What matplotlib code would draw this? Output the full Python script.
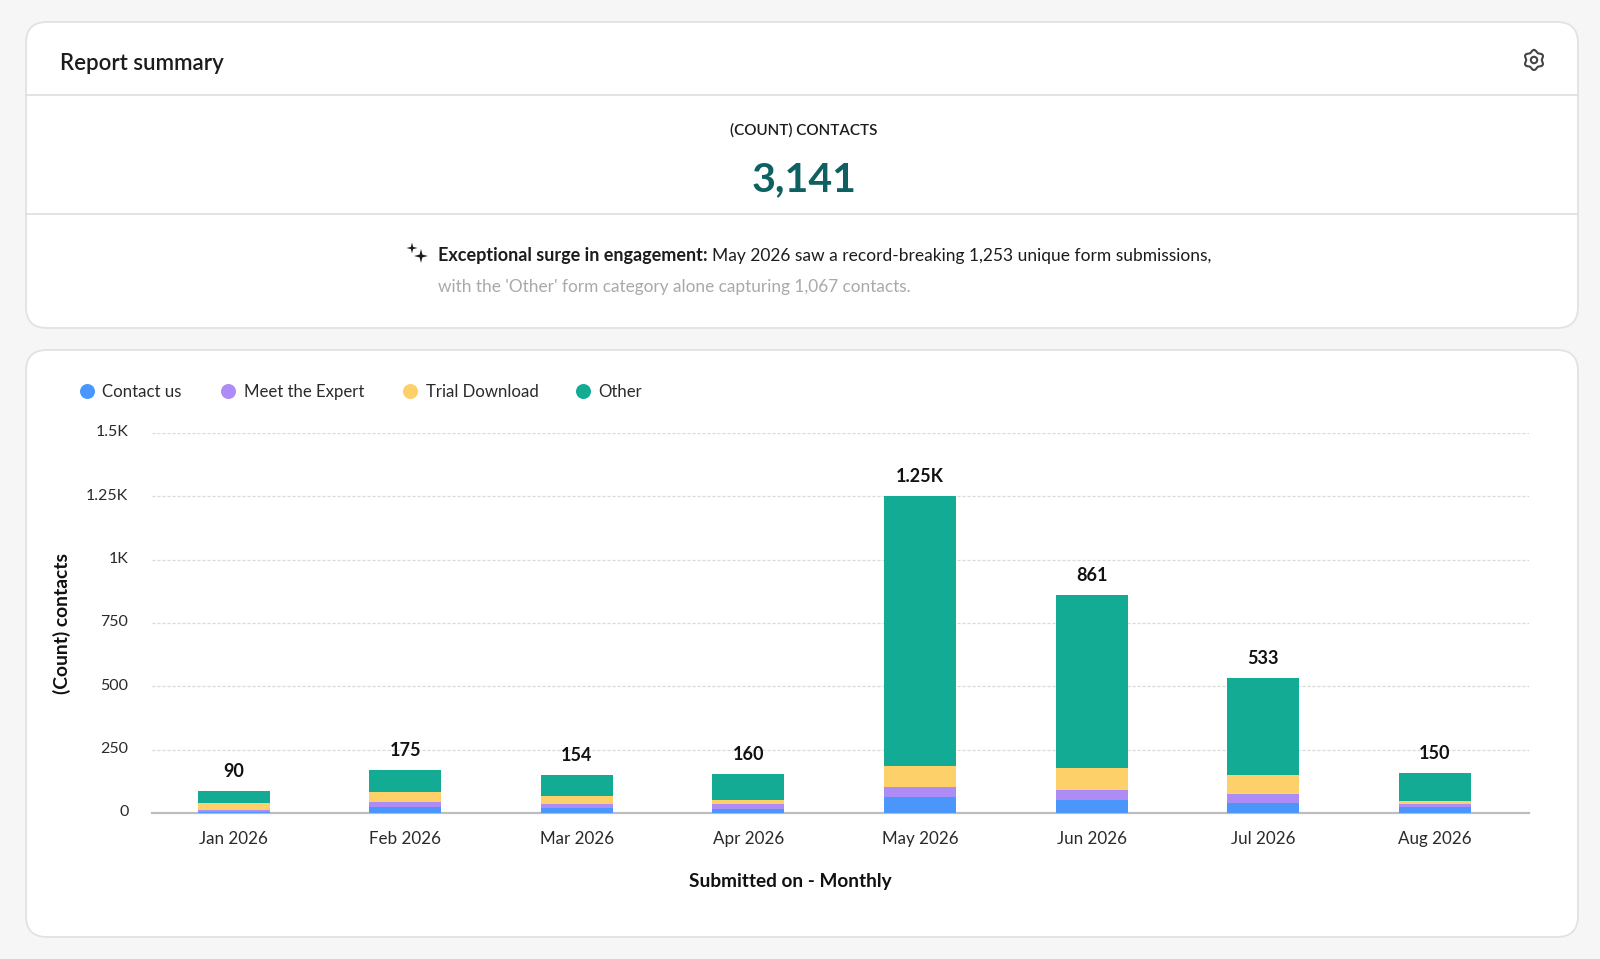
import numpy as np
import matplotlib
matplotlib.use("Agg")
import matplotlib.pyplot as plt
from matplotlib.patches import FancyBboxPatch
from matplotlib.ticker import FixedLocator, FixedFormatter
from matplotlib.transforms import ScaledTranslation

FONT = "Lato"
plt.rcParams["font.family"] = [FONT, "DejaVu Sans"]

months = ["Jan 2026", "Feb 2026", "Mar 2026", "Apr 2026", "May 2026", "Jun 2026", "Jul 2026", "Aug 2026"]
contact_us = [5, 25, 20, 17, 63, 53, 39, 22]
meet_expert = [8, 17, 14, 17, 40, 39, 37, 14]
trial_download = [26, 42, 32, 17, 83, 87, 75, 10]
other = [49, 87, 85, 103, 1067, 682, 382, 112]
total_labels = ["90", "175", "154", "160", "1.25K", "861", "533", "150"]
series_names = ["Contact us", "Meet the Expert", "Trial Download", "Other"]
series_colors = ["#4B96FB", "#AE8CF5", "#FDD069", "#14AB95"]
y_ticks = [0, 250, 500, 750, 1000, 1250, 1500]
y_tick_labels = ["0", "250", "500", "750", "1K", "1.25K", "1.5K"]

W, H = 1600, 959
fig = plt.figure(figsize=(W / 100, H / 100), dpi=100, facecolor="#F6F6F6")

bg = fig.add_axes([0, 0, 1, 1], zorder=0)
bg.set_xlim(0, W)
bg.set_ylim(H, 0)
bg.axis("off")

def card(x0, y0, x1, y1, r=21):
    bg.add_patch(FancyBboxPatch((x0, y0), x1 - x0, y1 - y0,
                                boxstyle=f"round,pad=0,rounding_size={r}",
                                fc="white", ec="#E2E2E2", lw=1.3))

card(26, 22, 1578, 328)
card(26, 350, 1578, 937)
bg.plot([26, 1578], [95, 95], color="#DEDEDE", lw=1.2)
bg.plot([26, 1578], [213.5, 213.5], color="#DEDEDE", lw=1.2)

def px(size):
    return size * 0.72

DARK = "#1C1C1C"
bg.text(59.5, 63, "Report summary", fontsize=px(22.3), color=DARK, va="center", ha="left", fontweight="semibold")
bg.text(804, 130, "(COUNT) CONTACTS", fontsize=px(15.3), color=DARK, va="center", ha="center", fontweight="semibold")
bg.text(804, 180, "3,141", fontsize=px(41), color="#0F6161", va="center", ha="center", fontweight="bold")

# insight text, bold run followed by regular run
t1 = bg.text(438, 256, "Exceptional surge in engagement:", fontsize=px(18), color=DARK,
             va="center", ha="left", fontweight="bold")
fig.canvas.draw()
ext = t1.get_window_extent(fig.canvas.get_renderer())
bg.text(ext.x1 + 4, 256, "May 2026 saw a record-breaking 1,253 unique form submissions,",
        fontsize=px(17.4), color=DARK, va="center", ha="left")
bg.text(438, 287, "with the 'Other' form category alone capturing 1,067 contacts.",
        fontsize=px(17.3), color="#A9A9A9", va="center", ha="left")

# sparkle icon
def star(cx, cy, r):
    k = r * 0.2
    pts = [(cx, cy - r), (cx + k, cy - k), (cx + r, cy), (cx + k, cy + k),
           (cx, cy + r), (cx - k, cy + k), (cx - r, cy), (cx - k, cy - k), (cx, cy - r)]
    bg.add_patch(plt.Polygon(pts, closed=True, fc="#1C1C1C", ec="none"))

star(412, 248, 5.5)
star(421, 256, 7)

# gear icon
theta = np.linspace(0, 2 * np.pi, 240)
rad = 8.9 + 1.1 * np.cos(6 * theta)
bg.plot(1534 + rad * np.sin(theta), 60 - rad * np.cos(theta), color="#444444", lw=1.5)
bg.add_patch(plt.Circle((1534, 60), 3.2, fc="none", ec="#444444", lw=1.5))

# legend
for x_dot, x_txt, name, col in zip([86.5, 228, 410, 582.5], [102, 243.5, 425.5, 598], series_names, series_colors):
    bg.scatter([x_dot], [391], s=px(15) ** 2 * 1.0, color=col, linewidths=0)
    bg.text(x_txt, 392, name, fontsize=px(16.8), color="#2A2A2A", va="center", ha="left")

# chart
ax_l, ax_r, ax_top, ax_bot = 152, 1529, 433, 813
ax = fig.add_axes([ax_l / W, 1 - ax_bot / H, (ax_r - ax_l) / W, (ax_bot - ax_top) / H], zorder=2)
ax.patch.set_alpha(0)
ax.set_xlim(-0.4755, 7.549)
ax.set_ylim(0, 1500)
for s in ["top", "left", "right"]:
    ax.spines[s].set_visible(False)
ax.spines["bottom"].set_color("#BDBDBD")
ax.spines["bottom"].set_linewidth(1.6)
ax.yaxis.set_major_locator(FixedLocator(y_ticks))
ax.yaxis.set_major_formatter(FixedFormatter(y_tick_labels))
ax.grid(axis="y", color="#D9D9D9", lw=0.9, ls=(0, (2.5, 1.5)))
ax.set_axisbelow(True)
x = np.arange(len(months))
ax.set_xticks(x, months)
ax.tick_params(axis="x", length=0, labelsize=px(17), labelcolor="#2A2A2A", pad=13.2)
ax.tick_params(axis="y", length=0, labelsize=px(16), labelcolor="#2A2A2A", pad=17)
up = ScaledTranslation(0, 2 / 100, fig.dpi_scale_trans)
for lab in ax.get_yticklabels():
    lab.set_transform(lab.get_transform() + up)
bottom = np.zeros(len(months))
for vals, col in zip([contact_us, meet_expert, trial_download, other], series_colors):
    ax.bar(x, vals, 0.42, bottom=bottom, color=col, linewidth=0, zorder=3)
    bottom += np.array(vals)
for xi, top, lab in zip(x, bottom, total_labels):
    ax.annotate(lab, (xi, top), xytext=(0, 14), textcoords="offset points", ha="center", va="center",
                fontsize=px(18), fontweight="bold", color="#111111")

bg.text(790, 882, "Submitted on - Monthly", fontsize=px(19), fontweight="bold", color="#111111", ha="center", va="center")
bg.text(62, 624, "(Count) contacts", fontsize=px(19.3), fontweight="bold", color="#111111",
        ha="center", va="center", rotation=90)

fig.savefig("out.png", dpi=100, facecolor=fig.get_facecolor())
